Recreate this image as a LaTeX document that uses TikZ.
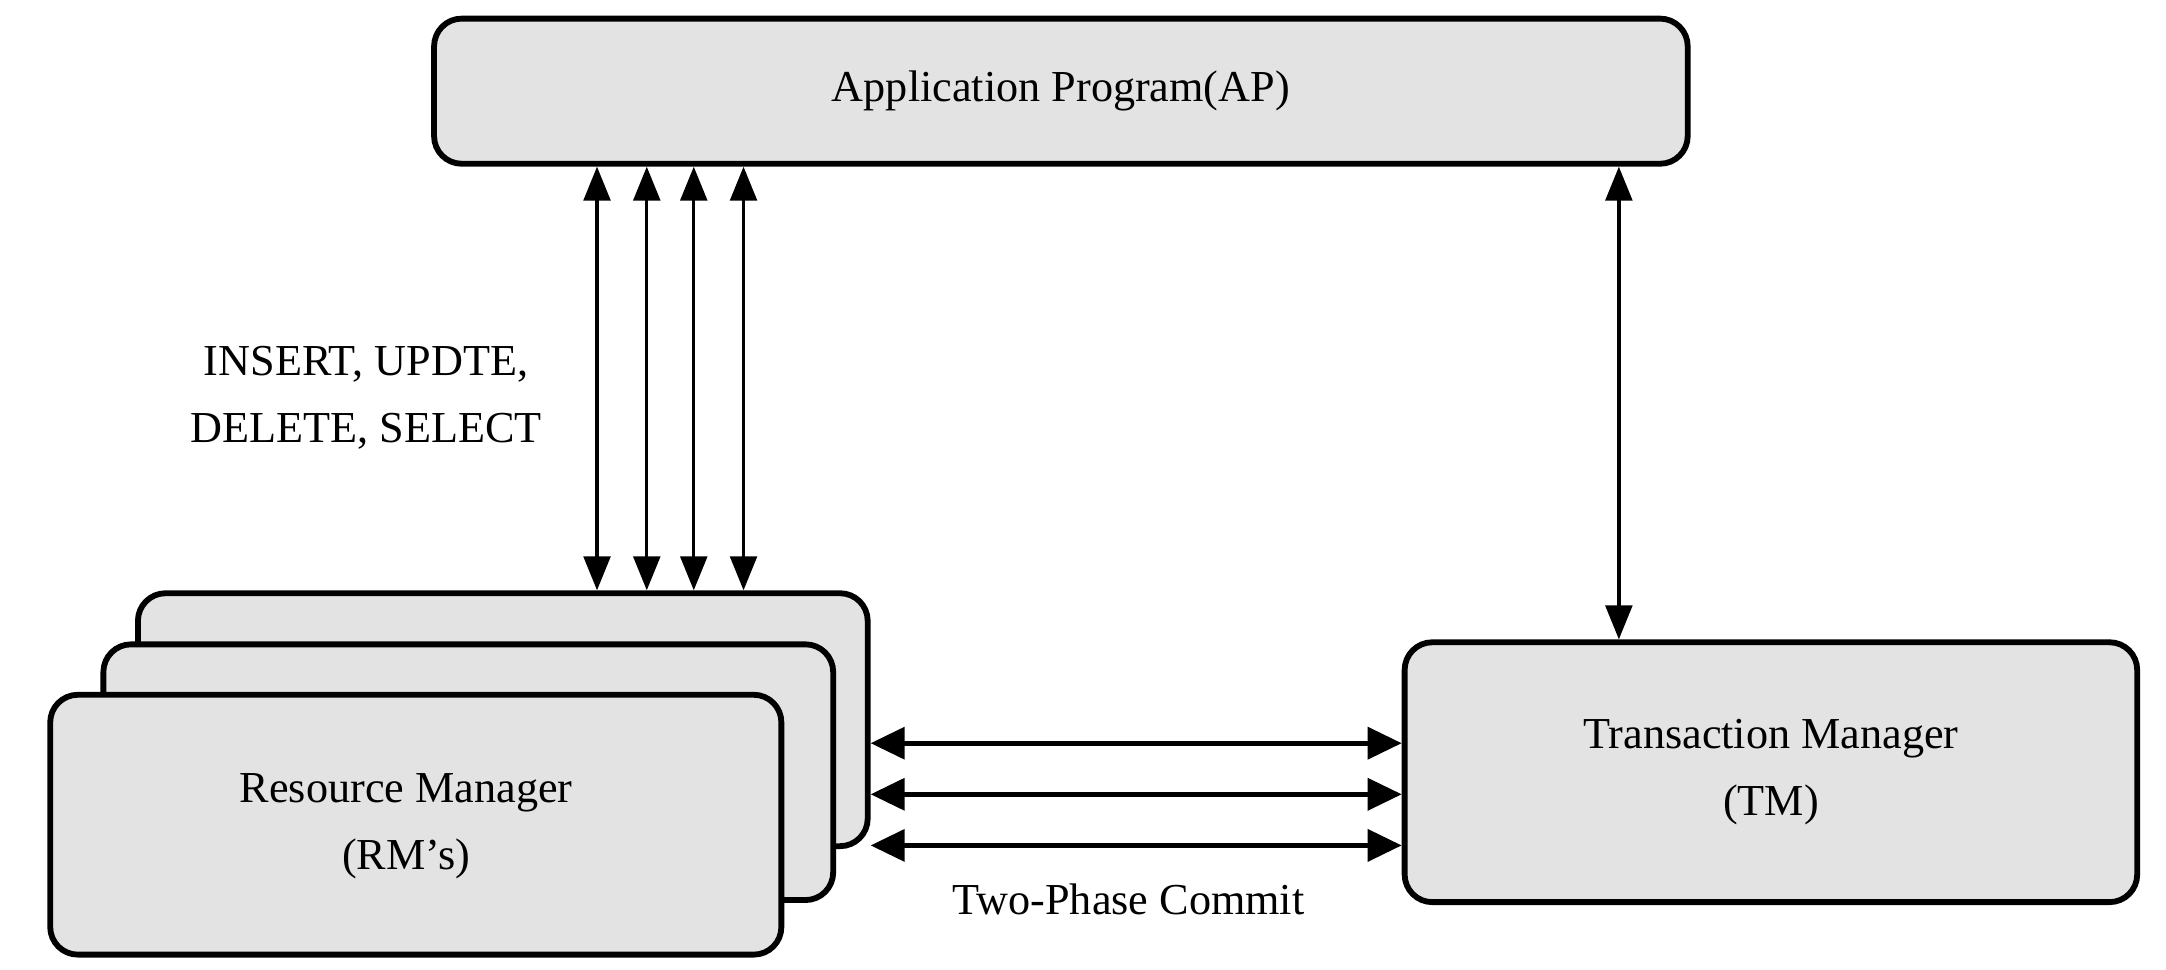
\documentclass[tikz,border=0pt]{standalone}
\usepackage{fontspec}
\setmainfont{Liberation Serif}
\usetikzlibrary{arrows.meta}

\begin{document}
\begin{tikzpicture}[x=0.01cm, y=-0.01cm, font=\fontsize{9.1}{13.8}\selectfont,
    box/.style={draw, line width=1.2pt, rounded corners=0.2cm, fill=black!11, align=center, inner sep=0pt},
    link/.style={{Triangle[length=7pt,width=5.5pt]}-{Triangle[length=7pt,width=5.5pt]}, line width=0.7pt},
    tpc/.style={{Triangle[length=7pt,width=6.5pt]}-{Triangle[length=7pt,width=6.5pt]}, line width=1pt}]
    \useasboundingbox (0,0) rectangle (1568,702);
    \node[box, minimum width=9.07cm, minimum height=1.05cm] (ap) at (768,66) {Application Program(AP)};
    \node[box, minimum width=5.28cm, minimum height=1.83cm] (rm3) at (364,521) {};
    \node[box, minimum width=5.28cm, minimum height=1.85cm] (rm2) at (339,559) {};
    \node[box, minimum width=5.29cm, minimum height=1.88cm] (rm1) at (301,597) {};
    \node (rmtext) at (294,598) [align=center] {Resource Manager\\(RM's)};
    \node[box, minimum width=5.30cm, minimum height=1.88cm] (tm) at (1282,559) {Transaction Manager\\(TM)};
    \node (sql) at (265,288) [align=center] {INSERT, UPDTE,\\DELETE, SELECT};
    \node (commit) at (817,651) {Two-Phase Commit};
    \foreach \s in {1.2cm,1.56cm,1.9cm,2.26cm}{
        \coordinate (up) at ([xshift=\s]ap.south west);
        \draw[link] (up) -- (up |- rm3.north);
    }
    \coordinate (tmin) at ([xshift=-1.1cm]tm.north);
    \draw[link] (tmin |- ap.south) -- (tmin);
    \foreach \y in {538,575,612}{
        \coordinate (lvl) at (0,\y);
        \draw[tpc] (rm3.east |- lvl) -- (tm.west |- lvl);
    }
\end{tikzpicture}
\end{document}
